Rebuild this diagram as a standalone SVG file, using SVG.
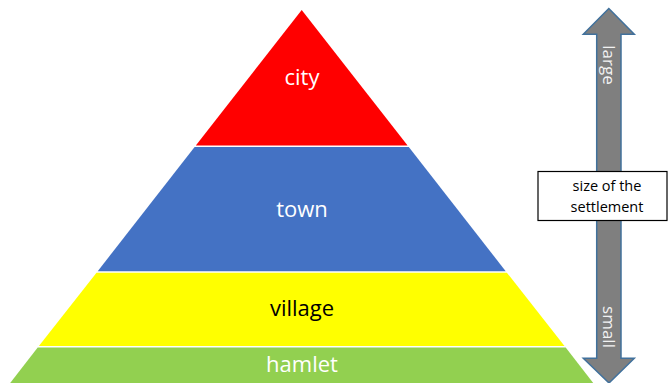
<svg xmlns="http://www.w3.org/2000/svg" width="668" height="383" viewBox="0 0 668 383">
<style>
.lbl{font-family:"Open Sans","Liberation Sans",sans-serif;font-size:22px;text-anchor:middle}
.w{fill:#ffffff}
.k{fill:#000000}
.arr{fill:#7f7f7f;stroke:#41719c;stroke-width:1.5}
.alab{font-family:"Open Sans","Liberation Sans",sans-serif;font-size:17px;fill:#f2f2f2;text-anchor:middle}
.box{fill:#ffffff;stroke:#000000;stroke-width:1.2}
.btxt{font-family:"Open Sans","Liberation Sans",sans-serif;font-size:14.5px;fill:#000000;text-anchor:middle}
</style>
<g id="city">
<polygon points="301.7,10 407.6,145.5 195.8,145.5" fill="#ff0000"/>
<text class="lbl w" x="302" y="85">city</text>
</g>
<g id="town">
<polygon points="194.6,147 408.8,147 505.7,271.2 97.7,271.2" fill="#4472c4"/>
<text class="lbl w" x="302" y="217">town</text>
</g>
<g id="village">
<polygon points="96.5,272.7 506.9,272.7 564.5,346 38.9,346" fill="#ffff00"/>
<text class="lbl k" x="302" y="316">village</text>
</g>
<g id="hamlet">
<polygon points="37.7,347.5 565.7,347.5 594,384 9.4,384" fill="#92d050"/>
<text class="lbl w" x="302" y="372">hamlet</text>
</g>
<g id="connectors">
<g id="arrow-up">
<polygon class="arr" points="608.8,8.5 634.3,34.3 621,34.3 621,172 596.7,172 596.7,34.3 583.3,34.3"/>
<text class="alab" transform="translate(602.5,65) rotate(90)">large</text>
</g>
<g id="arrow-down">
<polygon class="arr" points="596.7,220 621,220 621,358.3 634.3,358.3 609,383 583.3,358.3 596.7,358.3"/>
<text class="alab" transform="translate(602.5,327) rotate(90)">small</text>
</g>
</g>
<g id="size-box">
<rect class="box" x="538" y="171.5" width="129" height="49"/>
<text class="btxt" x="607" y="191">size of the</text>
<text class="btxt" x="607" y="212">settlement</text>
</g>
</svg>
